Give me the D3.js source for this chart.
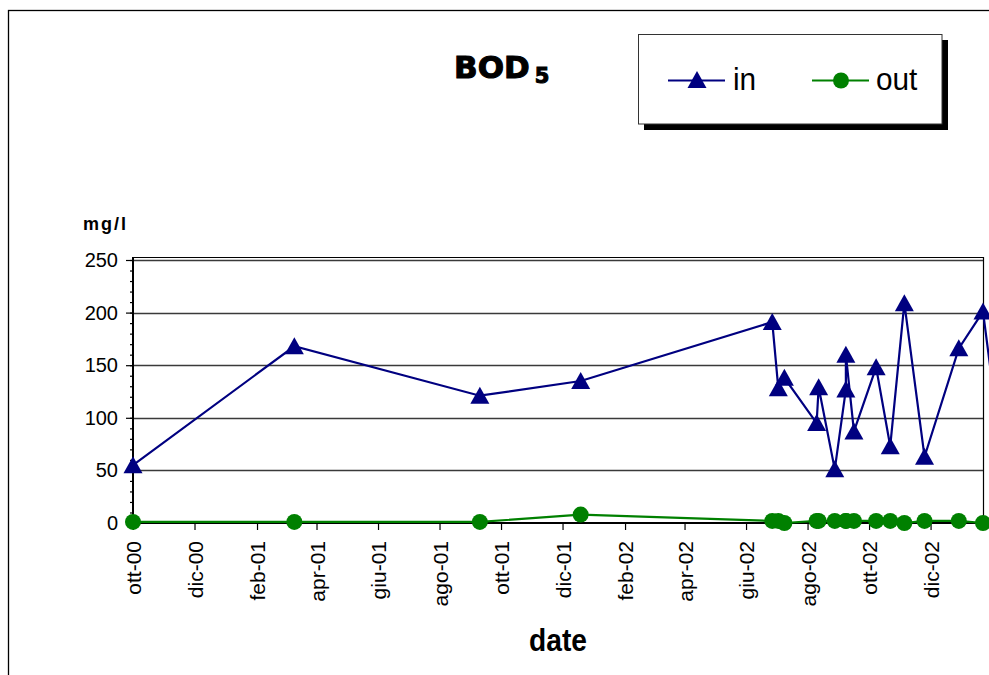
<!DOCTYPE html>
<html>
<head>
<meta charset="utf-8">
<script src="https://cdn.jsdelivr.net/npm/d3@7"></script>
<style>
  html, body { margin: 0; padding: 0; background: #fff; }
  svg { display: block; }
  text { font-family: "Liberation Sans", Arial, sans-serif; fill: #000; }
</style>
</head>
<body>
<svg id="chart" width="989" height="675"></svg>
<script>
// Sampling dates (shared by both series)
const sampleDates = [
  "2000-10-01", "2001-03-10", "2001-09-10", "2001-12-19",
  "2002-06-27", "2002-07-03", "2002-07-09", "2002-08-10", "2002-08-12",
  "2002-08-28", "2002-09-08", "2002-09-08", "2002-09-16", "2002-10-08",
  "2002-10-22", "2002-11-05", "2002-11-25", "2002-12-29", "2003-01-22",
  "2003-02-08"
];
// BOD5 at the plant inlet (mg/l)
const inValues = [55, 168, 121, 135, 191, 128, 138, 95, 129, 51, 127, 160, 87, 148, 73, 209, 63, 166, 201, 75];
// BOD5 at the plant outlet (mg/l)
const outValues = [1, 1, 1, 8, 2, 2, 0, 2, 2, 2, 2, 2, 2, 2, 2, 0, 2, 2, 0, 2];

// Axis ticks
const xTickDates = [
  "2000-10-01", "2000-12-01", "2001-02-01", "2001-04-01", "2001-06-01", "2001-08-01",
  "2001-10-01", "2001-12-01", "2002-02-01", "2002-04-01", "2002-06-01", "2002-08-01",
  "2002-10-01", "2002-12-01"
];
const xTickLabels = [
  "ott-00", "dic-00", "feb-01", "apr-01", "giu-01", "ago-01", "ott-01",
  "dic-01", "feb-02", "apr-02", "giu-02", "ago-02", "ott-02", "dic-02"
];
const yTicks = [0, 50, 100, 150, 200, 250];
const yMinorTicks = d3.range(0, 251, 10);
const xDomain = ["2000-10-01", "2003-01-22"];

const parse = d3.utcParse("%Y-%m-%d");
const svg = d3.select("#chart");

const plot = { left: 133, right: 983, top: 257, bottom: 523 };

const x = d3.scaleUtc()
  .domain(xDomain.map(parse))
  .range([plot.left, plot.right]);
const y = d3.scaleLinear()
  .domain([0, 250])
  .range([plot.bottom, 260]);

// Outer chart frame
svg.append("rect")
  .attr("x", 8.5).attr("y", 10.5)
  .attr("width", 1100).attr("height", 700)
  .attr("fill", "none").attr("stroke", "#000").attr("stroke-width", 1.3);

// Plot area frame (top and right sides)
svg.append("path")
  .attr("d", `M${plot.left},${plot.top + 0.5}H${plot.right + 0.5}V${plot.bottom}`)
  .attr("fill", "none").attr("stroke", "#000").attr("stroke-width", 1.2);

// Horizontal gridlines
svg.append("g")
  .selectAll("line")
  .data(yTicks.filter(v => v > 0))
  .join("line")
  .attr("x1", plot.left).attr("x2", plot.right)
  .attr("y1", d => Math.round(y(d)) + 0.5).attr("y2", d => Math.round(y(d)) + 0.5)
  .attr("stroke", "#3a3a3a").attr("stroke-width", 1.4);

// Y axis: minor ticks, major ticks and labels
const yAxisMinor = d3.axisLeft(y).tickValues(yMinorTicks).tickSize(3).tickFormat("");
const gyMinor = svg.append("g").attr("transform", `translate(${plot.left},0)`).call(yAxisMinor);
gyMinor.select(".domain").remove();
gyMinor.selectAll("line").attr("stroke", "#000").attr("stroke-width", 1.2);

const yAxis = d3.axisLeft(y).tickValues(yTicks).tickSize(7).tickPadding(8);
const gy = svg.append("g").attr("transform", `translate(${plot.left},0)`).call(yAxis);
gy.select(".domain").attr("stroke", "#000").attr("stroke-width", 2)
  .attr("d", `M0,${plot.top}V${plot.bottom}`);
gy.selectAll("line").attr("stroke", "#000").attr("stroke-width", 1.2);
gy.selectAll("text")
  .attr("font-size", 20)
  .attr("font-family", "'Liberation Sans', Arial, sans-serif")
  .attr("fill", "#000");

// X axis with rotated month labels
const xAxis = d3.axisBottom(x)
  .tickValues(xTickDates.map(parse))
  .tickSize(7)
  .tickFormat((d, i) => xTickLabels[i]);
const gx = svg.append("g").attr("transform", `translate(0,${plot.bottom})`).call(xAxis);
gx.select(".domain").attr("stroke", "#000").attr("stroke-width", 2)
  .attr("d", `M${plot.left},0H${plot.right + 1}`);
gx.selectAll("line").attr("stroke", "#000").attr("stroke-width", 1.2);
gx.selectAll("text")
  .attr("font-size", 21)
  .attr("font-family", "'Liberation Sans', Arial, sans-serif")
  .attr("fill", "#000")
  .attr("text-anchor", "end")
  .attr("transform", "rotate(-90)")
  .attr("x", -18)
  .attr("y", 0)
  .attr("dy", "0.36em");

// Series
const inData = sampleDates.map((d, i) => ({ date: parse(d), value: inValues[i] }));
const outData = sampleDates.map((d, i) => ({ date: parse(d), value: outValues[i] }));

const line = d3.line().x(d => x(d.date)).y(d => y(d.value));

const triangle = "M0,-9L9.5,8L-9.5,8Z";

svg.append("path").datum(outData)
  .attr("d", line).attr("fill", "none")
  .attr("stroke", "#008000").attr("stroke-width", 2.2);
svg.append("g").selectAll("circle").data(outData).join("circle")
  .attr("cx", d => x(d.date)).attr("cy", d => y(d.value)).attr("r", 8)
  .attr("fill", "#008000");

svg.append("path").datum(inData)
  .attr("d", line).attr("fill", "none")
  .attr("stroke", "#000080").attr("stroke-width", 2.2);
svg.append("g").selectAll("path").data(inData).join("path")
  .attr("d", triangle)
  .attr("transform", d => `translate(${x(d.date)},${y(d.value)})`)
  .attr("fill", "#000080");

// Title
const title = svg.append("text")
  .attr("x", 454).attr("y", 78)
  .attr("font-weight", "bold")
  .attr("font-size", 31)
  .attr("stroke", "#000").attr("stroke-width", 1.1)
  .style("font-family", "'DejaVu Sans', sans-serif");
title.append("tspan").text("BOD");
title.append("tspan").attr("dx", 5).attr("dy", 5).attr("font-size", 21).text("5");

// Axis titles
svg.append("text")
  .attr("x", 83).attr("y", 230)
  .attr("font-weight", "bold").attr("font-size", 18)
  .attr("letter-spacing", 2)
  .text("mg/l");

svg.append("text")
  .attr("transform", "translate(558,651) scale(0.88,1)")
  .attr("text-anchor", "middle")
  .attr("font-weight", "bold").attr("font-size", 32)
  .text("date");

// Legend
const legend = svg.append("g");
legend.append("rect")
  .attr("x", 644).attr("y", 40).attr("width", 304).attr("height", 90)
  .attr("fill", "#000");
legend.append("rect")
  .attr("x", 638.5).attr("y", 34.5).attr("width", 303.5).attr("height", 89.5)
  .attr("fill", "#fff").attr("stroke", "#333").attr("stroke-width", 1);

legend.append("line")
  .attr("x1", 668).attr("x2", 725).attr("y1", 80.5).attr("y2", 80.5)
  .attr("stroke", "#000080").attr("stroke-width", 2.2);
legend.append("path")
  .attr("d", triangle).attr("transform", "translate(697,80)").attr("fill", "#000080");
legend.append("text")
  .attr("transform", "translate(733,90) scale(0.93,1)")
  .attr("font-size", 32).text("in");

legend.append("line")
  .attr("x1", 812).attr("x2", 869).attr("y1", 80.5).attr("y2", 80.5)
  .attr("stroke", "#008000").attr("stroke-width", 2.2);
legend.append("circle")
  .attr("cx", 841).attr("cy", 80.5).attr("r", 8).attr("fill", "#008000");
legend.append("text")
  .attr("transform", "translate(876,90) scale(0.93,1)")
  .attr("font-size", 32).text("out");
</script>
</body>
</html>
